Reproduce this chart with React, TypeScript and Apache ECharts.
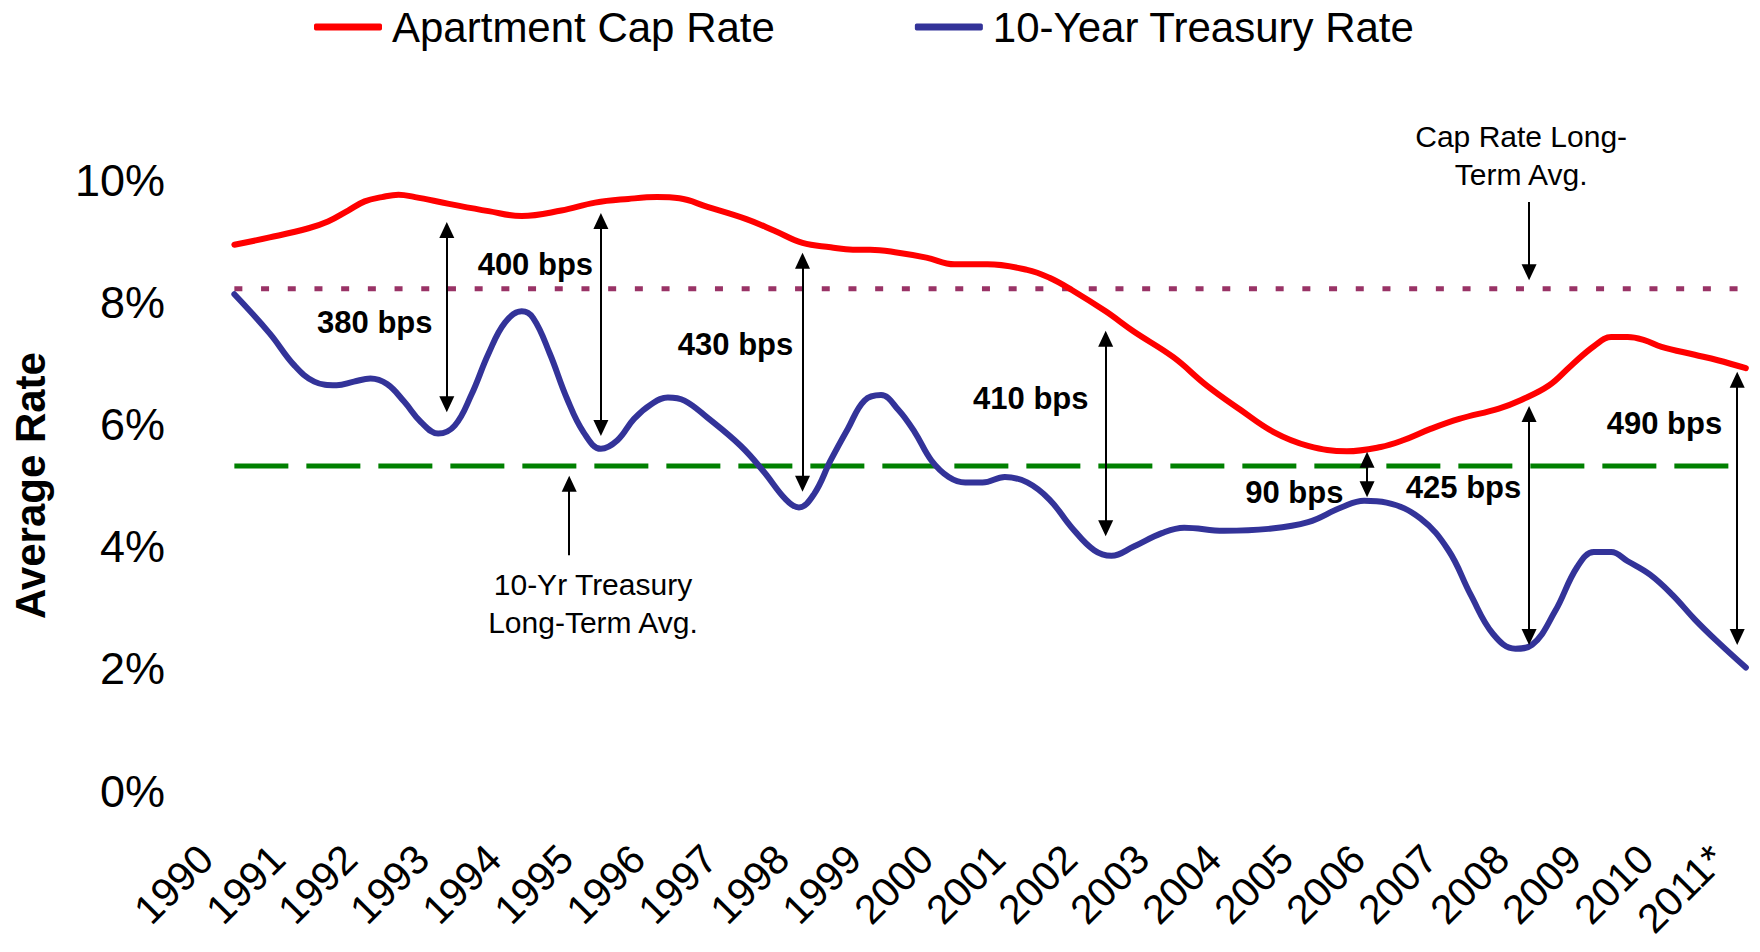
import React, { useEffect, useRef } from "react";
import * as echarts from "echarts";

// ---- Data (year, percent) ----
const capRate: [number, number][] = [
  [1990.13, 8.94], [1990.62, 9.06], [1991.16, 9.21], [1991.43, 9.32], [1991.71, 9.5],
  [1991.94, 9.65], [1992.18, 9.72], [1992.41, 9.76], [1992.64, 9.72], [1993.11, 9.61],
  [1993.66, 9.49], [1994.12, 9.41], [1994.67, 9.5], [1995.14, 9.63], [1995.6, 9.69],
  [1996.0, 9.72], [1996.31, 9.7], [1996.7, 9.56], [1997.24, 9.36], [1997.63, 9.17],
  [1998.02, 8.97], [1998.41, 8.9], [1998.72, 8.86], [1998.96, 8.86], [1999.35, 8.81],
  [1999.74, 8.73], [2000.13, 8.62], [2000.59, 8.62], [2001.14, 8.53], [2001.45, 8.4],
  [2001.76, 8.2], [2002.23, 7.85], [2002.62, 7.52], [2003.17, 7.1], [2003.63, 6.64],
  [2004.1, 6.24], [2004.57, 5.87], [2005.04, 5.65], [2005.58, 5.56], [2006.05, 5.63],
  [2006.36, 5.74], [2006.75, 5.93], [2007.14, 6.09], [2007.69, 6.26], [2008.0, 6.4],
  [2008.39, 6.64], [2008.7, 6.97], [2009.01, 7.28], [2009.25, 7.43], [2009.48, 7.43],
  [2009.71, 7.38], [2009.95, 7.27], [2010.41, 7.14], [2010.73, 7.05], [2011.12, 6.92],
];

const treasury: [number, number][] = [
  [1990.13, 8.13], [1990.62, 7.49], [1990.96, 6.97], [1991.24, 6.7], [1991.55, 6.64],
  [1991.79, 6.7], [1992.02, 6.75], [1992.25, 6.66], [1992.49, 6.37], [1992.72, 6.04],
  [1992.96, 5.85], [1993.19, 5.98], [1993.42, 6.48], [1993.66, 7.16], [1993.89, 7.67],
  [1994.12, 7.85], [1994.28, 7.74], [1994.51, 7.16], [1994.75, 6.42], [1994.98, 5.87],
  [1995.22, 5.6], [1995.45, 5.74], [1995.68, 6.09], [1995.92, 6.33], [1996.15, 6.44],
  [1996.38, 6.39], [1996.7, 6.11], [1997.16, 5.65], [1997.48, 5.23], [1997.79, 4.77],
  [1997.97, 4.64], [1998.18, 4.86], [1998.41, 5.41], [1998.65, 5.93], [1998.88, 6.39],
  [1999.11, 6.48], [1999.35, 6.24], [1999.58, 5.87], [1999.81, 5.41], [2000.05, 5.14],
  [2000.28, 5.05], [2000.52, 5.05], [2000.83, 5.14], [2001.14, 5.05], [2001.45, 4.77],
  [2001.76, 4.31], [2002.07, 3.94], [2002.31, 3.85], [2002.62, 4.0], [2003.01, 4.22],
  [2003.32, 4.31], [2003.87, 4.26], [2004.49, 4.29], [2005.04, 4.4], [2005.5, 4.64],
  [2005.82, 4.75], [2006.13, 4.72], [2006.6, 4.46], [2006.99, 3.94], [2007.3, 3.21],
  [2007.61, 2.57], [2007.92, 2.33], [2008.15, 2.39], [2008.47, 2.94], [2008.78, 3.67],
  [2009.01, 3.91], [2009.25, 3.91], [2009.48, 3.76], [2009.79, 3.54], [2010.1, 3.21],
  [2010.41, 2.81], [2010.73, 2.44], [2011.12, 2.02],
];

const seriesNames = ["Apartment Cap Rate", "10-Year Treasury Rate"];
const capRateAvg = 8.22;
const treasuryAvg = 5.32;
const dataStart = 1990.13;
const dataEnd = 2011.12;

const yTicks = [0, 2, 4, 6, 8, 10];
const lastYearLabel = "2011*";

// spread arrows
const spreadLabels = ["380 bps", "400 bps", "430 bps", "410 bps", "90 bps", "425 bps", "490 bps"];
const spreadX = [1993.08, 1995.22, 1998.02, 2002.23, 2005.86, 2008.11, 2011.0];
const spreadTop = [9.31, 9.46, 8.81, 7.53, 5.55, 6.3, 6.86];
const spreadBottom = [6.2, 5.81, 4.9, 4.17, 4.81, 2.39, 2.39];
const spreadLabelX = [1992.08, 1994.31, 1997.09, 2001.19, 2004.85, 2007.2, 2009.99];
const spreadLabelY = [7.66, 8.61, 7.3, 6.43, 4.89, 4.96, 6.01];

// callout notes (anchor inside the plot, label shifted in pixels)
const noteTexts = ["Cap Rate Long-\nTerm Avg.", "10-Yr Treasury\nLong-Term Avg."];
const noteX = [2008.0, 1995.11];
const noteY = [9.9, 3.07];
const noteShift = [-31, 0];
const noteArrowX = [2008.11, 1994.78];
const noteArrowFrom = [9.64, 3.86];
const noteArrowTo = [8.36, 5.16];

const FONT = 'Arial, "Liberation Sans", Helvetica, sans-serif';
const HEAD = 0.13; // half an arrow head in value units

export default function App() {
  const ref = useRef<HTMLDivElement>(null);

  useEffect(() => {
    if (!ref.current) return;
    const chart = echarts.init(ref.current, undefined, { renderer: "svg" });

    const spreadLines = spreadX.map((x, i) => [
      { coord: [x, spreadTop[i] - HEAD] },
      { coord: [x, spreadBottom[i] + HEAD] },
    ]);
    const noteLines = noteArrowX.map((x, i) => {
      const down = noteArrowTo[i] < noteArrowFrom[i];
      return [
        { coord: [x, noteArrowFrom[i]], symbol: "none" },
        { coord: [x, noteArrowTo[i] + (down ? HEAD : -HEAD)], symbol: "triangle" },
      ];
    });

    const spreadPoints = spreadLabels.map((t, i) => ({
      name: t,
      coord: [spreadLabelX[i], spreadLabelY[i]],
      label: { fontWeight: "bold", fontSize: 31 },
    }));
    const notePoints = noteTexts.map((t, i) => ({
      name: t,
      coord: [noteX[i], noteY[i]],
      label: { fontWeight: "normal", fontSize: 30, lineHeight: 38, offset: [0, noteShift[i]] },
    }));

    chart.setOption({
      animation: false,
      backgroundColor: "#ffffff",
      textStyle: { fontFamily: FONT, color: "#000" },
      legend: {
        data: seriesNames,
        left: 314,
        top: 4,
        padding: 0,
        icon: "roundRect",
        itemWidth: 68,
        itemHeight: 7,
        itemGap: 140,
        textStyle: { fontSize: 42, lineHeight: 46, color: "#000", fontFamily: FONT, padding: [0, 0, 0, 5] },
      },
      grid: { left: 225, right: 12, top: 180, bottom: 161, containLabel: false },
      xAxis: {
        type: "value",
        min: 1990,
        max: 2011.15,
        interval: 1,
        axisLine: { show: false },
        axisTick: { show: false },
        splitLine: { show: false },
        axisLabel: {
          rotate: 45,
          fontSize: 41,
          color: "#000",
          fontFamily: FONT,
          margin: 42,
          padding: [0, 27, 0, 0],
          showMaxLabel: false,
          formatter: (v: number) => {
            if (Math.abs(v - Math.round(v)) > 1e-6) return "";
            return Math.round(v) === 2011 ? lastYearLabel : String(Math.round(v));
          },
        },
      },
      yAxis: {
        type: "value",
        min: yTicks[0],
        max: yTicks[yTicks.length - 1],
        interval: 2,
        name: "Average Rate",
        nameLocation: "middle",
        nameRotate: 90,
        nameGap: 174,
        nameTextStyle: { fontSize: 42, fontWeight: "bold", color: "#000", fontFamily: FONT },
        axisLine: { show: false },
        axisTick: { show: false },
        splitLine: { show: false },
        axisLabel: { formatter: "{value}%", fontSize: 45, color: "#000", fontFamily: FONT, margin: 60 },
      },
      series: [
        {
          name: "Cap Rate Long-Term Avg.",
          type: "line",
          data: [[dataStart, capRateAvg], [dataEnd, capRateAvg]],
          symbol: "none",
          silent: true,
          lineStyle: { color: "#993366", width: 5, type: [8, 18.7], cap: "butt" },
          z: 1,
        },
        {
          name: "10-Yr Treasury Long-Term Avg.",
          type: "line",
          data: [[dataStart, treasuryAvg], [dataEnd, treasuryAvg]],
          symbol: "none",
          silent: true,
          lineStyle: { color: "#008000", width: 5, type: [54, 18], cap: "butt" },
          z: 1,
        },
        {
          name: seriesNames[0],
          type: "line",
          data: capRate,
          symbol: "none",
          smooth: 0.4,
          itemStyle: { color: "#ff0000" },
          lineStyle: { color: "#ff0000", width: 6, cap: "round", join: "round" },
          z: 3,
        },
        {
          name: seriesNames[1],
          type: "line",
          data: treasury,
          symbol: "none",
          smooth: 0.4,
          itemStyle: { color: "#333399" },
          lineStyle: { color: "#333399", width: 6, cap: "round", join: "round" },
          z: 3,
        },
        {
          name: "annotations",
          type: "line",
          data: [],
          z: 5,
          markLine: {
            silent: true,
            animation: false,
            symbol: ["triangle", "triangle"],
            symbolSize: [15, 16],
            label: { show: false },
            lineStyle: { color: "#000", width: 2, type: "solid" },
            itemStyle: { color: "#000" },
            emphasis: { disabled: true },
            data: [...spreadLines, ...noteLines],
          },
          markPoint: {
            silent: true,
            animation: false,
            symbol: "circle",
            symbolSize: 1,
            itemStyle: { color: "rgba(0,0,0,0)" },
            label: {
              show: true,
              position: "inside",
              color: "#000",
              fontFamily: FONT,
              formatter: (p: any) => p.name,
            },
            data: [...spreadPoints, ...notePoints],
          },
        },
      ],
    });

    return () => chart.dispose();
  }, []);

  return (
    <div
      ref={ref}
      style={{ position: "fixed", left: 0, top: 0, width: 1760, height: 952, background: "#fff" }}
    />
  );
}
